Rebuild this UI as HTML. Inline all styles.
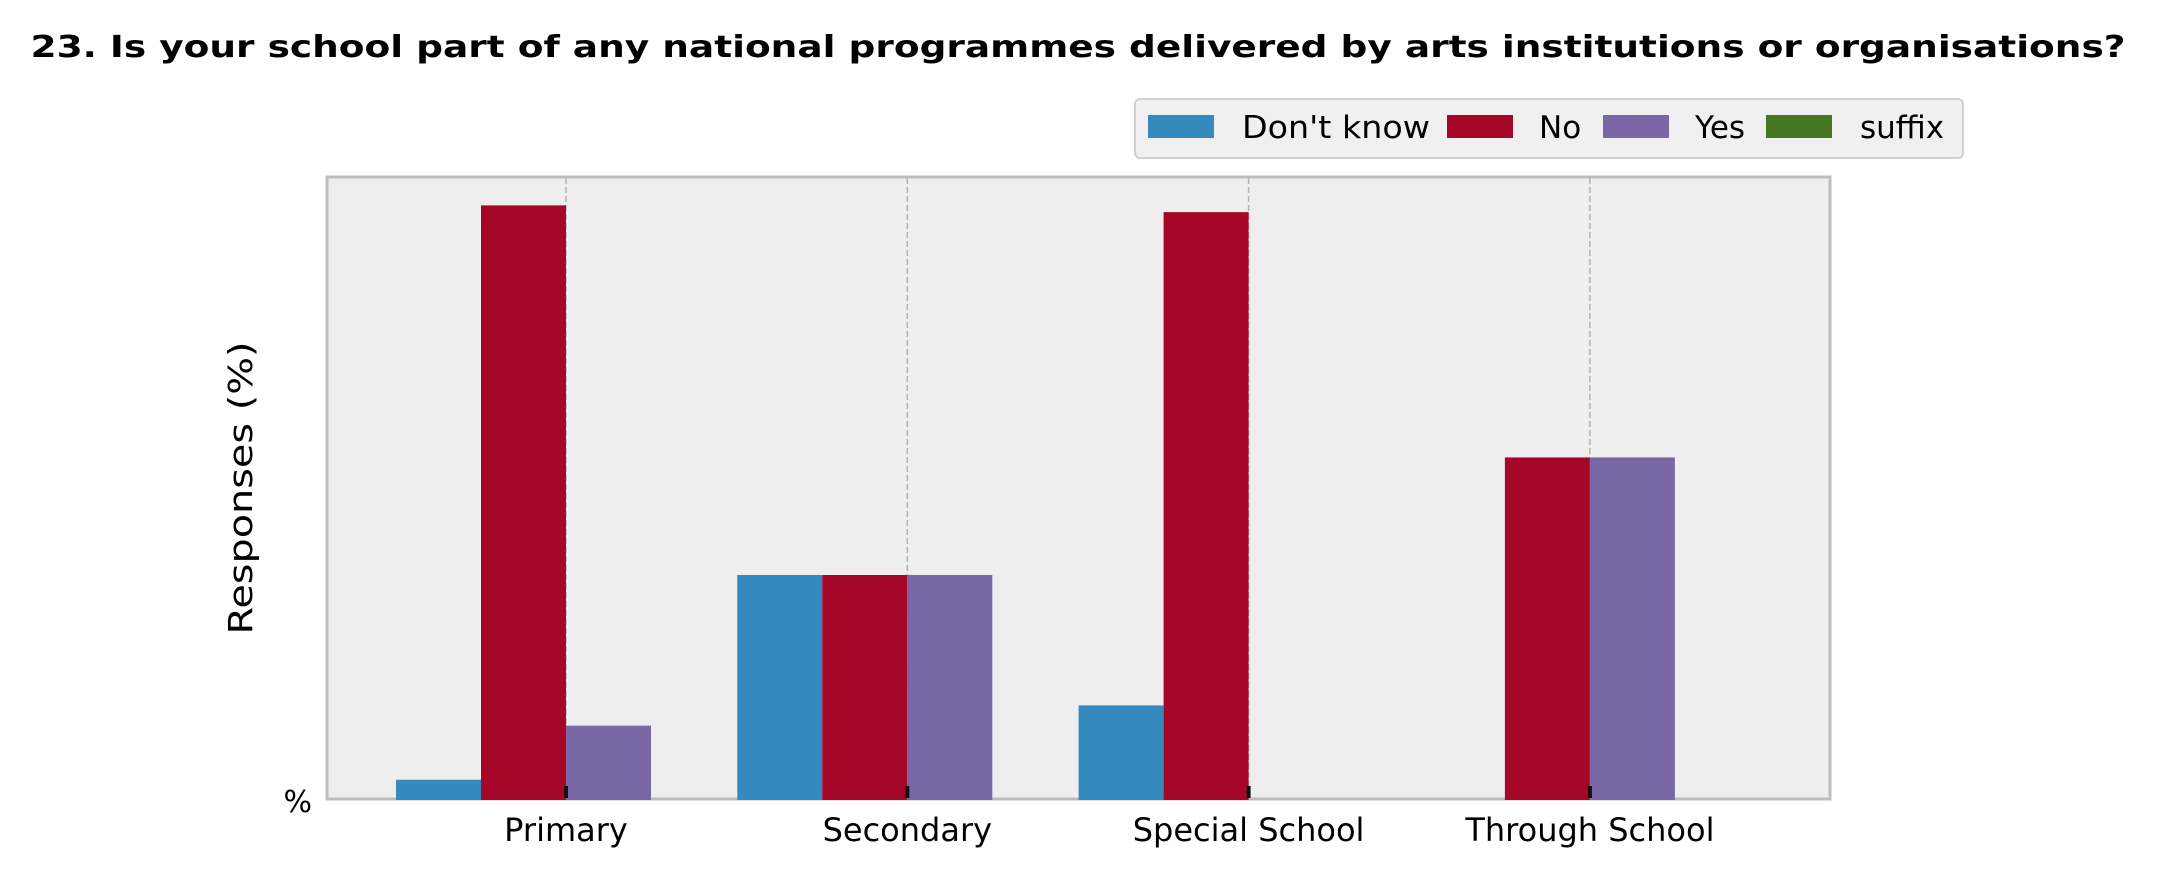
<!DOCTYPE html>
<html><head><meta charset="utf-8"><style>
html,body{margin:0;padding:0;background:#fff;}
svg{display:block;font-family:"DejaVu Sans","Liberation Sans",sans-serif;}
</style></head><body>
<svg id="chart" width="2157" height="878" viewBox="0 0 2157 878" xmlns="http://www.w3.org/2000/svg">
<text x="1078" y="57" text-anchor="middle" font-size="30" font-weight="bold" textLength="2095" lengthAdjust="spacingAndGlyphs">23. Is your school part of any national programmes delivered by arts institutions or organisations?</text>
<rect x="327" y="177" width="1503" height="622" fill="#eeeeee" stroke="#bcbcbc" stroke-width="3"/>
<g id="grid"></g>
<g id="bars"></g>
<g id="xticks"></g>
<text transform="translate(252,488) rotate(-90)" text-anchor="middle" font-size="33" textLength="293" lengthAdjust="spacingAndGlyphs">Responses (%)</text>
<text x="312" y="812" text-anchor="end" font-size="30">%</text>
<g>
<rect x="1135" y="99" width="828" height="59" rx="5" fill="#f0f0f0" stroke="#d0d0d0" stroke-width="2"/>
<rect x="1148" y="115" width="66" height="23" fill="#348abd"/>
<text x="1242" y="138" font-size="31" textLength="188" lengthAdjust="spacingAndGlyphs">Don't know</text>
<rect x="1447" y="115" width="66" height="23" fill="#a60628"/>
<text x="1539" y="138" font-size="31">No</text>
<rect x="1603" y="115" width="66" height="23" fill="#7a68a6"/>
<text x="1695" y="138" font-size="31">Yes</text>
<rect x="1766" y="115" width="66" height="23" fill="#467821"/>
<text x="1860" y="138" font-size="31">suffix</text>
</g>
</svg>
<script>
const categories = ["Primary", "Secondary", "Special School", "Through School"];
const seriesNames = ["Don't know", "No", "Yes", "suffix"];
const dontKnow = [3, 33.3, 14, 0];
const no = [88, 33.3, 87, 50.7];
const yes = [11, 33.3, 0, 50.7];
const suffix = [0, 0, 0, 0];
const yMax = 92.2;

const NS = "http://www.w3.org/2000/svg";
const plotTop = 177, plotBottom = 800;
const firstTick = 566, tickStep = 341.3, barW = 85;
function xScale(i){ return firstTick + i * tickStep; }
function yScale(v){ return plotBottom - (v / yMax) * (plotBottom - plotTop); }
const series = [dontKnow, no, yes, suffix];
const colors = ["#348abd", "#a60628", "#7a68a6", "#467821"];
const keys = ["dont-know", "no", "yes", "suffix"];
const grid = document.getElementById("grid");
const bars = document.getElementById("bars");
const xt = document.getElementById("xticks");
categories.forEach((c, i) => {
  const x = xScale(i);
  const gl = document.createElementNS(NS, "line");
  
  
  gl.setAttribute("x1", x); gl.setAttribute("x2", x);
  gl.setAttribute("y1", 178); gl.setAttribute("y2", 798);
  gl.setAttribute("stroke", "#b2b2b2"); gl.setAttribute("stroke-width", "1.5");
  gl.setAttribute("stroke-dasharray", "6,3");
  grid.appendChild(gl);
  series.forEach((s, k) => {
    const v = s[i];
    if (v <= 0) return;
    const r = document.createElementNS(NS, "rect");
    
    
    const bx = x + (k - 2) * barW;
    const y = yScale(v);
    r.setAttribute("x", bx); r.setAttribute("y", y);
    r.setAttribute("width", barW); r.setAttribute("height", plotBottom - y);
    r.setAttribute("fill", colors[k]);
    bars.appendChild(r);
  });
  const tk = document.createElementNS(NS, "rect");
  
  
  tk.setAttribute("x", x - 2); tk.setAttribute("y", 786);
  tk.setAttribute("width", 4); tk.setAttribute("height", 12);
  tk.setAttribute("fill", "#111");
  xt.appendChild(tk);
  const t = document.createElementNS(NS, "text");
  
  
  t.setAttribute("x", x); t.setAttribute("y", 841);
  t.setAttribute("text-anchor", "middle");
  t.setAttribute("font-size", "32");
  t.textContent = c;
  xt.appendChild(t);
});
</script>
</body></html>
